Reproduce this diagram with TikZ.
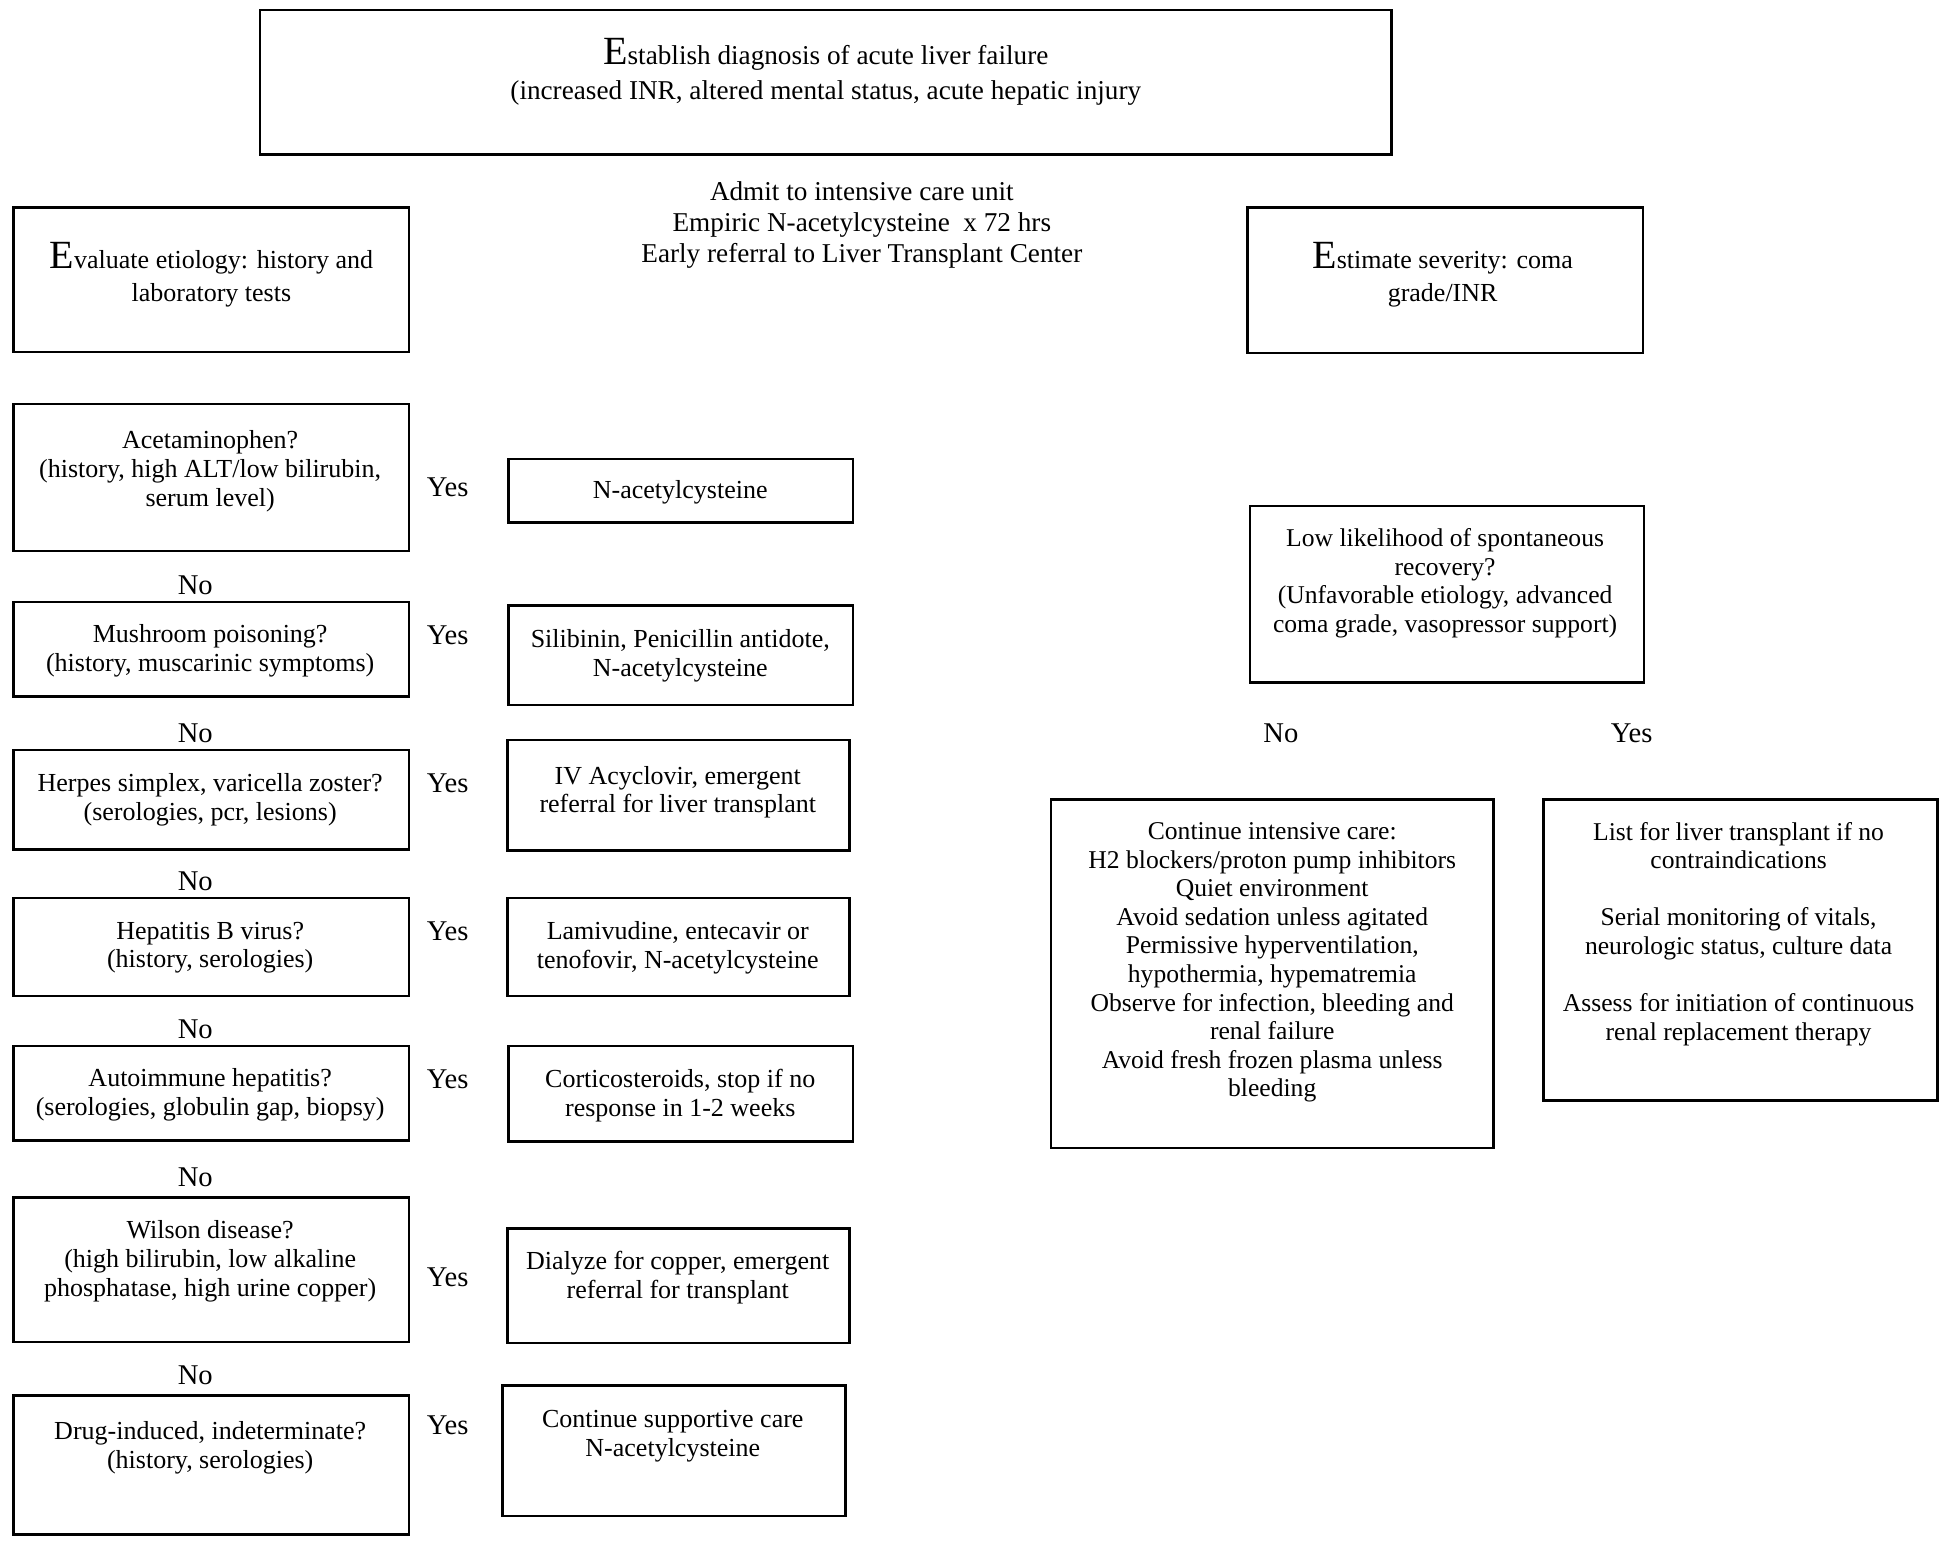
\documentclass[tikz,border=0pt]{standalone}
\usepackage{fontspec}
\setmainfont{Liberation Serif}
\def\u{0.6218pt}
\newcommand\bigE[1]{{\fontsize{20}{20}\selectfont #1}}
\newcommand\boxat[5]{\node[box, minimum width={(#4-#2)*0.6218pt}, minimum height={(#5-#3)*0.6218pt}] (#1) at ({(#2+#4)/2},{(#3+#5)/2}) {};}
\tikzset{
  box/.style={draw=black, line width=1.3pt, inner sep=0pt, fill=none},
  txt/.style={align=center, inner sep=0pt, font=\fontsize{13}{14.4}\selectfont},
  rtxt/.style={txt, font=\fontsize{12.8}{14.3}\selectfont},
  bigtxt/.style={txt, font=\fontsize{13.6}{15.5}\selectfont},
  lab/.style={inner sep=0pt, font=\fontsize{14.3}{15}\selectfont}
}
\begin{document}
\begin{tikzpicture}[x=0.6218pt, y=-0.6218pt]
\useasboundingbox[fill=white] (0,0) rectangle (1568,1247);
% top
\boxat{top}{209}{8}{1119}{124}
\node[bigtxt] (topt) at (664,58) {\bigE{E}stablish diagnosis of acute liver failure\\[2pt](increased INR, altered mental status, acute hepatic injury};
\node[bigtxt] (admit) at (693,181) {Admit to intensive care unit\\Empiric N-acetylcysteine \ x 72 hrs\\Early referral to Liver Transplant Center};
% left header
\boxat{eval}{11}{167}{329}{283}
\node[txt] (evalt) at (170,221) {\bigE{E}valuate etiology: history and\\[2pt]laboratory tests};
\boxat{est}{1003}{167}{1321}{284}
\node[txt] (estt) at (1160,221) {\bigE{E}stimate severity: coma\\[2pt]grade/INR};
% left column
\boxat{acet}{11}{325}{329}{443}
\node[txt] (acett) at (169,379) {Acetaminophen?\\(history, high ALT/low bilirubin,\\serum level)};
\node[lab] (yes1) at (360,392) {Yes};
\boxat{nac}{409}{369}{686}{420}
\node[txt] (nact) at (547,396) {N-acetylcysteine};
\node[lab] (no1) at (157,471) {No};
\boxat{mush}{11}{484}{329}{560}
\node[txt] (musht) at (169,523) {Mushroom poisoning?\\(history, muscarinic symptoms)};
\node[lab] (yes2) at (360,511) {Yes};
\boxat{sil}{409}{487}{686}{567}
\node[txt] (silt) at (547,527) {Silibinin, Penicillin antidote,\\N-acetylcysteine};
\node[lab] (no2) at (157,590) {No};
\boxat{herp}{11}{603}{329}{683}
\node[txt] (herpt) at (169,643) {Herpes simplex, varicella zoster?\\(serologies, pcr, lesions)};
\node[lab] (yes3) at (360,630) {Yes};
\boxat{acy}{408}{595}{683}{684}
\node[txt] (acyt) at (545,637) {IV Acyclovir, emergent\\referral for liver transplant};
\node[lab] (no3) at (157,709) {No};
\boxat{hepb}{11}{722}{329}{801}
\node[txt] (hepbt) at (169,762) {Hepatitis B virus?\\(history, serologies)};
\node[lab] (yes4) at (360,749) {Yes};
\boxat{lam}{408}{722}{683}{801}
\node[txt] (lamt) at (545,762) {Lamivudine, entecavir or\\tenofovir, N-acetylcysteine};
\node[lab] (no4) at (157,828) {No};
\boxat{auto}{11}{841}{329}{917}
\node[txt] (autot) at (169,880) {Autoimmune hepatitis?\\(serologies, globulin gap, biopsy)};
\node[lab] (yes5) at (360,868) {Yes};
\boxat{cort}{409}{841}{686}{918}
\node[txt] (cortt) at (547,881) {Corticosteroids, stop if no\\response in 1-2 weeks};
\node[lab] (no5) at (157,947) {No};
\boxat{wil}{11}{963}{329}{1079}
\node[txt] (wilt) at (169,1014) {Wilson disease?\\(high bilirubin, low alkaline\\phosphatase, high urine copper)};
\node[lab] (yes6) at (360,1027) {Yes};
\boxat{dial}{408}{988}{683}{1080}
\node[txt] (dialt) at (545,1027) {Dialyze for copper, emergent\\referral for transplant};
\node[lab] (no6) at (157,1106) {No};
\boxat{drug}{11}{1122}{329}{1234}
\node[txt] (drugt) at (169,1164) {Drug-induced, indeterminate?\\(history, serologies)};
\node[lab] (yes7) at (360,1146) {Yes};
\boxat{sup}{404}{1114}{680}{1219}
\node[txt] (supt) at (541,1155) {Continue supportive care\\N-acetylcysteine};
% right side
\boxat{low}{1005}{407}{1322}{549}
\node[rtxt] (lowt) at (1162,469) {Low likelihood of spontaneous\\recovery?\\(Unfavorable etiology, advanced\\coma grade, vasopressor support)};
\node[lab] (noR) at (1030,590) {No};
\node[lab] (yesR) at (1312,590) {Yes};
\boxat{cic}{845}{643}{1201}{923}
\node[rtxt] (cict) at (1023,774) {Continue intensive care:\\H2 blockers/proton pump inhibitors\\Quiet environment\\Avoid sedation unless agitated\\Permissive hyperventilation,\\hypothermia, hypematremia\\Observe for infection, bleeding and\\renal failure\\Avoid fresh frozen plasma unless\\bleeding};
\boxat{list}{1241}{643}{1558}{885}
\node[rtxt] (listt) at (1398,751) {List for liver transplant if no\\contraindications\\[14.3pt]Serial monitoring of vitals,\\neurologic status, culture data\\[14.3pt]Assess for initiation of continuous\\renal replacement therapy};
\end{tikzpicture}
\end{document}
